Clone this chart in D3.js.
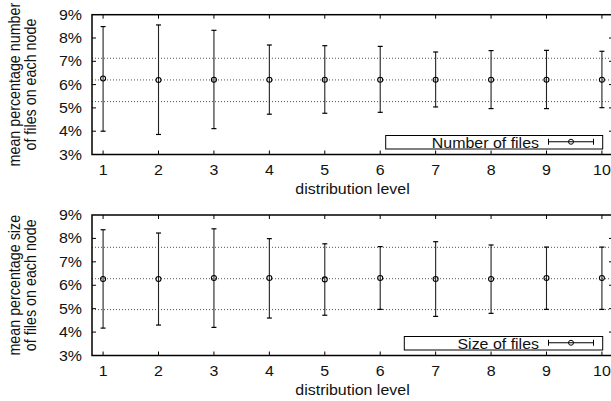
<!DOCTYPE html>
<html><head><meta charset="utf-8">
<script src="https://cdn.jsdelivr.net/npm/d3@7"></script>
<style>
html,body{margin:0;padding:0;background:#fff;}
svg{display:block;font-family:"Liberation Sans",Arial,Helvetica,sans-serif;}
</style></head>
<body>
<svg id="chart" width="611" height="401"></svg>
<script>
// ---- data ----
const levels = [1, 2, 3, 4, 5, 6, 7, 8, 9, 10];
const filesMean = [6.26, 6.20, 6.21, 6.21, 6.21, 6.21, 6.21, 6.21, 6.21, 6.21];
const filesHigh = [8.49, 8.56, 8.33, 7.70, 7.67, 7.64, 7.40, 7.46, 7.47, 7.43];
const filesLow  = [4.00, 3.86, 4.11, 4.73, 4.77, 4.81, 5.04, 4.97, 4.97, 5.01];
const filesRef  = [7.13, 6.20, 5.27];
const sizeMean = [6.27, 6.27, 6.31, 6.31, 6.25, 6.31, 6.27, 6.27, 6.31, 6.31];
const sizeHigh = [8.37, 8.23, 8.41, 7.99, 7.77, 7.65, 7.86, 7.72, 7.63, 7.63];
const sizeLow  = [4.17, 4.30, 4.20, 4.60, 4.72, 4.97, 4.67, 4.80, 4.97, 4.97];
const sizeRef  = [7.62, 6.28, 4.96];
const yTickValues = [3, 4, 5, 6, 7, 8, 9];
const yTickLabels = ["3%", "4%", "5%", "6%", "7%", "8%", "9%"];
const xTickLabels = ["1", "2", "3", "4", "5", "6", "7", "8", "9", "10"];
const xLabel = "distribution level";
const panels = [
  {yLabel: ["mean percentage number", "of files on each node"], legend: "Number of files",
   mean: filesMean, high: filesHigh, low: filesLow, ref: filesRef, top: 14.7, bottom: 154.5, legendLeft: 385.7},
  {yLabel: ["mean percentage size", "of files on each node"], legend: "Size of files",
   mean: sizeMean, high: sizeHigh, low: sizeLow, ref: sizeRef, top: 215, bottom: 355.5, legendLeft: 404.3}
];

const svg = d3.select("#chart");
const SX = 1.14; // horizontal stretch of text
const FS = 14;
const left = 92, right = 613;
const x = d3.scaleLinear().domain([0.8, 10.2]).range([left, right]);

function txt(g, xx, yy, s, anchor, size) {
  return g.append("text")
    .attr("transform", `translate(${xx},${yy}) scale(${SX},1)`)
    .attr("text-anchor", anchor)
    .attr("font-size", size || FS)
    .attr("fill", "#111")
    .text(s);
}

panels.forEach(p => {
  const g = svg.append("g");
  const y = d3.scaleLinear().domain([3, 9]).range([p.bottom, p.top]);

  // reference dotted lines
  g.selectAll("line.ref").data(p.ref).enter().append("line")
    .attr("x1", left).attr("x2", right)
    .attr("y1", d => y(d)).attr("y2", d => y(d))
    .attr("stroke", "#555").attr("stroke-width", 1)
    .attr("stroke-dasharray", "1,2");

  // ticks (inward) on all four sides
  const tl = 4;
  yTickValues.forEach(v => {
    if (v === 3 || v === 9) return;
    g.append("line").attr("x1", left).attr("x2", left + tl).attr("y1", y(v)).attr("y2", y(v)).attr("stroke", "#000");
    g.append("line").attr("x1", right).attr("x2", right - tl).attr("y1", y(v)).attr("y2", y(v)).attr("stroke", "#000");
  });
  levels.forEach(v => {
    g.append("line").attr("x1", x(v)).attr("x2", x(v)).attr("y1", p.bottom).attr("y2", p.bottom - tl).attr("stroke", "#000");
    g.append("line").attr("x1", x(v)).attr("x2", x(v)).attr("y1", p.top).attr("y2", p.top + tl).attr("stroke", "#000");
  });

  // frame
  g.append("rect").attr("x", left).attr("y", p.top).attr("width", right - left).attr("height", p.bottom - p.top)
    .attr("fill", "none").attr("stroke", "#000").attr("stroke-width", 1.5);

  // tick labels
  yTickValues.forEach((v, i) => txt(g, 82, y(v) + 5, yTickLabels[i], "end"));
  levels.forEach((v, i) => txt(g, x(v), p.bottom + 20, xTickLabels[i], "middle"));
  txt(g, (left + right) / 2, p.bottom + 39, xLabel, "middle");

  // y label
  const cy = (p.top + p.bottom) / 2;
  p.yLabel.forEach((s, i) => {
    g.append("text")
      .attr("transform", `translate(${20 + i * 16},${cy}) scale(${SX},1) rotate(-90)`)
      .attr("text-anchor", "middle").attr("font-size", 14.3).attr("fill", "#111").text(s);
  });

  // legend
  const lb = {x: p.legendLeft, y: p.bottom - 19, w: 602.7 - p.legendLeft, h: 13.5};
  g.append("rect").attr("x", lb.x).attr("y", lb.y).attr("width", lb.w).attr("height", lb.h)
    .attr("fill", "#fff").attr("stroke", "#000").attr("stroke-width", 1);
  txt(g, 539, lb.y + 12, p.legend, "end");
  const ly = lb.y + lb.h / 2 - 0.5;
  g.append("line").attr("x1", 548.5).attr("x2", 593.5).attr("y1", ly).attr("y2", ly).attr("stroke", "#000");
  [548.5, 593.5].forEach(xx => g.append("line").attr("x1", xx).attr("x2", xx).attr("y1", ly - 3).attr("y2", ly + 3).attr("stroke", "#000"));
  g.append("circle").attr("cx", 571).attr("cy", ly).attr("r", 2.5).attr("fill", "none").attr("stroke", "#000");

  // error bars
  const eb = g.selectAll("g.eb").data(levels).enter().append("g");
  eb.append("line").attr("x1", d => x(d)).attr("x2", d => x(d))
    .attr("y1", (d, i) => y(p.high[i])).attr("y2", (d, i) => y(p.low[i]))
    .attr("stroke", "#222").attr("stroke-width", 1.1);
  eb.append("line").attr("x1", d => x(d) - 2.5).attr("x2", d => x(d) + 2.5)
    .attr("y1", (d, i) => y(p.high[i])).attr("y2", (d, i) => y(p.high[i]))
    .attr("stroke", "#000").attr("stroke-width", 1.2);
  eb.append("line").attr("x1", d => x(d) - 2.5).attr("x2", d => x(d) + 2.5)
    .attr("y1", (d, i) => y(p.low[i])).attr("y2", (d, i) => y(p.low[i]))
    .attr("stroke", "#000").attr("stroke-width", 1.2);
  eb.append("circle").attr("cx", d => x(d)).attr("cy", (d, i) => y(p.mean[i])).attr("r", 2.5)
    .attr("fill", "none").attr("stroke", "#000").attr("stroke-width", 1.1);
});
</script>
</body></html>
